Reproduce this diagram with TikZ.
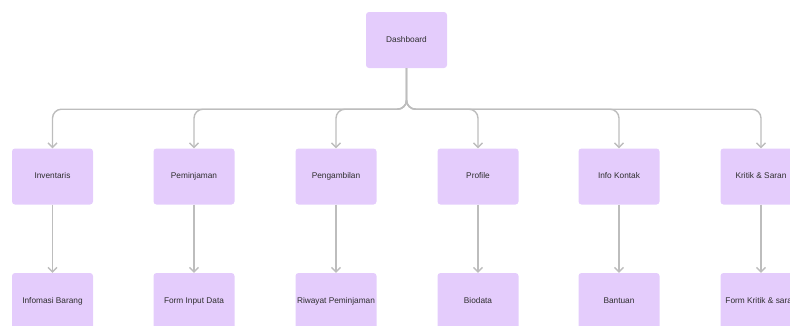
\documentclass[tikz,border=0pt]{standalone}
\usepackage{fontspec}
\setmainfont{Liberation Sans}
\usetikzlibrary{arrows.meta}
\definecolor{boxfill}{HTML}{E4CCFC}
\definecolor{linkgray}{HTML}{BDBDBD}
\definecolor{txt}{HTML}{2E2E2E}
\tikzset{
	menu/.style={fill=boxfill, rounded corners=3pt, minimum width=81pt, minimum height=56pt,
		inner sep=0pt, text height=6pt, text depth=1.5pt, text=txt,
		font=\fontsize{8.3}{10}\selectfont},
	link/.style={draw=linkgray, line width=1.4pt, rounded corners=9pt,
		-{Straight Barb[length=4.5pt,width=9pt,line width=1.3pt]}}
}
\begin{document}
\begin{tikzpicture}[x=1pt,y=-1pt]
	\useasboundingbox (0,0) rectangle (790,325);
	
	\node [menu] (dash) at (406.5,40) {Dashboard};
	
	% level 1
	\node [menu] (inv) at (52.5,176.5) {Inventaris};
	\node [menu] (pinjam) at (194,176.5) {Peminjaman};
	\node [menu] (ambil) at (336,176.5) {Pengambilan};
	\node [menu] (profil) at (478,176.5) {Profile};
	\node [menu] (kontak) at (619,176.5) {Info Kontak};
	\node [menu] (kritik) at (761,176.5) {Kritik \& Saran};
	
	% level 2
	\node [menu] (barang) at (52.5,301) {Infomasi Barang};
	\node [menu] (forminput) at (194,301) {Form Input Data};
	\node [menu] (riwayat) at (336,301) {Riwayat Peminjaman};
	\node [menu] (biodata) at (478,301) {Biodata};
	\node [menu] (bantuan) at (619,301) {Bantuan};
	\node [menu] (formkritik) at (761,301) {Form Kritik \& saran};
	
	\draw [link] (dash.south) -- ++(0,41) -| (inv.north);
	\draw [link] (dash.south) -- ++(0,41) -| (pinjam.north);
	\draw [link] (dash.south) -- ++(0,41) -| (ambil.north);
	\draw [link] (dash.south) -- ++(0,41) -| (profil.north);
	\draw [link] (dash.south) -- ++(0,41) -| (kontak.north);
	\draw [link] (dash.south) -- ++(0,41) -| (kritik.north);
	
	\draw [link] (inv.south) -- (barang.north);
	\draw [link] (pinjam.south) -- (forminput.north);
	\draw [link] (ambil.south) -- (riwayat.north);
	\draw [link] (profil.south) -- (biodata.north);
	\draw [link] (kontak.south) -- (bantuan.north);
	\draw [link] (kritik.south) -- (formkritik.north);
\end{tikzpicture}
\end{document}
